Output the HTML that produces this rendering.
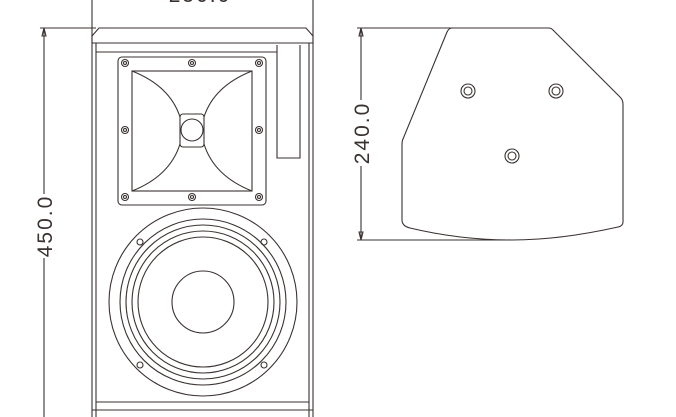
<!DOCTYPE html>
<html><head><style>html,body{margin:0;padding:0;background:#fff;}svg{display:block}</style></head>
<body>
<svg width="676" height="417" viewBox="0 0 676 417" xmlns="http://www.w3.org/2000/svg" fill="none" stroke="#3a3230" stroke-width="1.1">
<!-- left dimension -->
<line x1="44" y1="28" x2="44" y2="417"/>
<line x1="40" y1="28" x2="96" y2="28"/>
<path d="M44 28 L42 36 L46 36 Z" fill="none"/>
<line x1="92" y1="0" x2="92" y2="417"/>
<line x1="313" y1="0" x2="313" y2="417"/>
<rect x="34" y="194" width="20" height="64" fill="#fff" stroke="none"/>
<rect x="351" y="100" width="20" height="66" fill="#fff" stroke="none"/>
<g stroke="none" fill="#3a3230" font-family="Liberation Sans, sans-serif">
<text x="0" y="0" font-size="21" transform="translate(52,226) rotate(-90)" text-anchor="middle" letter-spacing="2">450.0</text>
<text x="200" y="2" font-size="21" text-anchor="middle" letter-spacing="2">250.0</text>
<text x="0" y="0" font-size="21" transform="translate(369,133) rotate(-90)" text-anchor="middle" letter-spacing="2">240.0</text>
</g>
<!-- cabinet -->
<path d="M92 43 L92 36 L99 28 L306 28 L313 36 L313 43 Z"/>
<line x1="96" y1="43" x2="96" y2="417"/>
<line x1="309" y1="43" x2="309" y2="417"/>
<line x1="96" y1="52" x2="277" y2="52"/>
<path d="M277 45 L277 158 L300 158 L300 45"/>
<line x1="96" y1="402" x2="309" y2="402"/>
<line x1="92" y1="410" x2="313" y2="410"/>
<!-- horn -->
<rect x="118" y="57" width="148" height="148" rx="4"/>
<rect x="132" y="71" width="120" height="120"/>
<rect x="180" y="114" width="24" height="33" rx="3"/>
<circle cx="192" cy="130" r="11"/>
<path d="M132 71 Q170 86 180 117 M252 71 Q214 86 204 117 M132 191 Q170 176 180 144 M252 191 Q214 176 204 144"/>
<g>
<circle cx="125" cy="63" r="3.5"/><circle cx="125" cy="63" r="1.5"/>
<circle cx="192" cy="63" r="3.5"/><circle cx="192" cy="63" r="1.5"/>
<circle cx="259" cy="63" r="3.5"/><circle cx="259" cy="63" r="1.5"/>
<circle cx="125" cy="130" r="3.5"/><circle cx="125" cy="130" r="1.5"/>
<circle cx="259" cy="130" r="3.5"/><circle cx="259" cy="130" r="1.5"/>
<circle cx="125" cy="197" r="3.5"/><circle cx="125" cy="197" r="1.5"/>
<circle cx="192" cy="197" r="3.5"/><circle cx="192" cy="197" r="1.5"/>
<circle cx="259" cy="197" r="3.5"/><circle cx="259" cy="197" r="1.5"/>
</g>
<!-- woofer -->
<circle cx="203" cy="302" r="94"/>
<circle cx="203" cy="302" r="83"/>
<circle cx="203" cy="302" r="77"/>
<circle cx="203" cy="302" r="71"/>
<circle cx="203" cy="302" r="65"/>
<circle cx="203" cy="302" r="31"/>
<circle cx="140" cy="242" r="3"/><circle cx="264" cy="242" r="3"/>
<circle cx="140" cy="365" r="3"/><circle cx="264" cy="365" r="3"/>
<!-- side view -->
<line x1="361" y1="28" x2="361" y2="100"/>
<line x1="361" y1="166" x2="361" y2="240"/>
<line x1="357" y1="28" x2="452" y2="28"/>
<line x1="357" y1="240" x2="510" y2="240"/>
<path d="M361 28 L359 36 L363 36 Z M361 240 L359 232 L363 232 Z"/>
<path d="M452 28 L549 28 Q551 28 553 30 L620 97 Q623 100 623 104 L623 222 Q623 226 618 227 Q560 240 512 240 Q460 240 410 228 Q402 226 402 220 L402 145 Q402 141 403 139 L447 32 Q449 28 452 28 Z"/>
<circle cx="468" cy="91" r="7"/><circle cx="468" cy="91" r="4"/>
<circle cx="556" cy="91" r="7"/><circle cx="556" cy="91" r="4"/>
<circle cx="512" cy="156" r="7"/><circle cx="512" cy="156" r="4"/>
</svg>
</body></html>
